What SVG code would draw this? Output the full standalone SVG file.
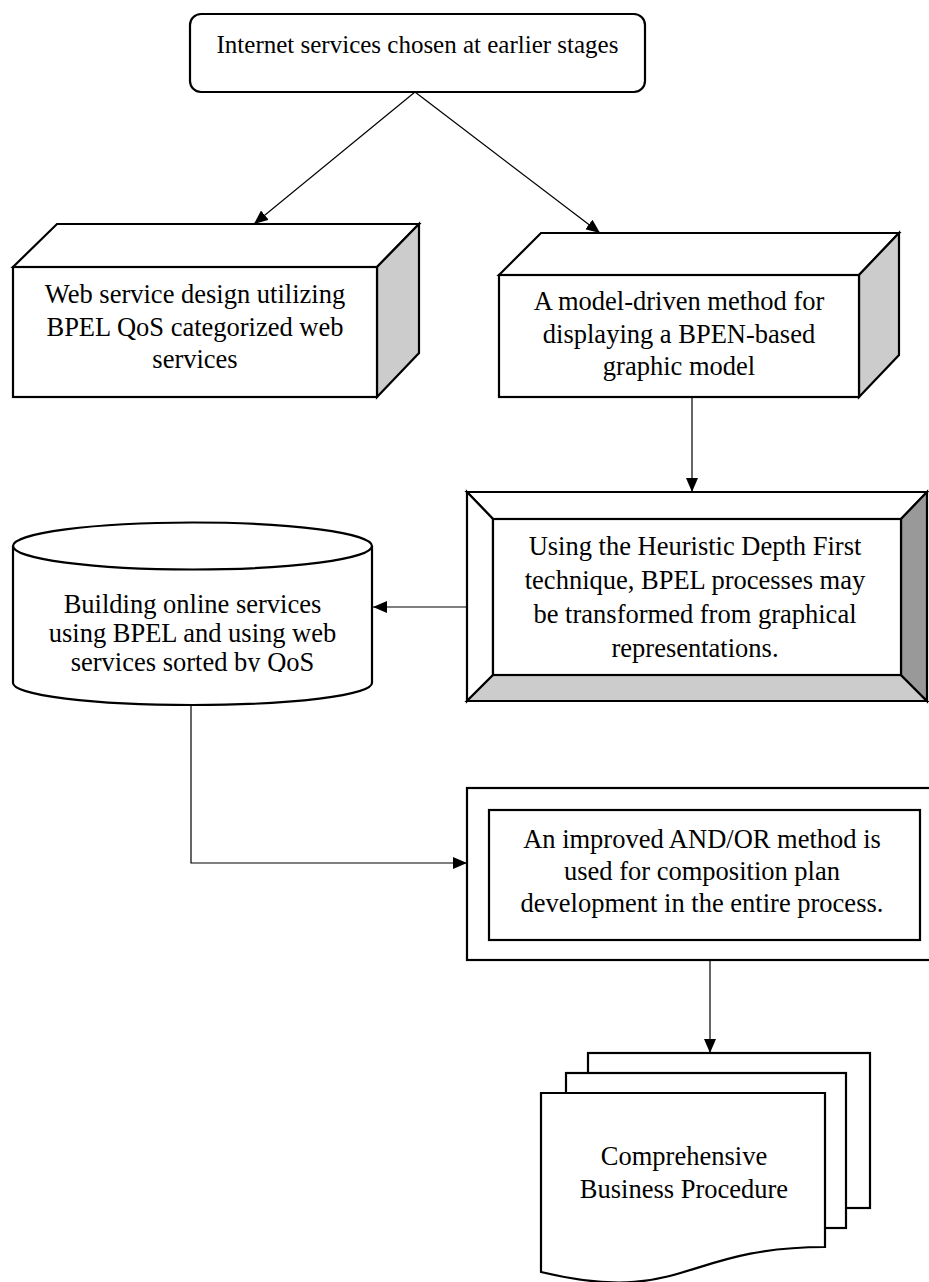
<svg xmlns="http://www.w3.org/2000/svg" width="929" height="1282" viewBox="0 0 929 1282">
<style>
.s{stroke:#000;stroke-width:2.2;stroke-linejoin:miter}
.w{fill:#fff}
.g1{fill:#ccc}
.g2{fill:#999}
.t{font-family:"Liberation Serif","Times New Roman",serif;font-size:26.5px;fill:#000;text-anchor:middle}
.c{fill:none;stroke:#000;stroke-width:1.2}
</style>
<defs>
<marker id="ah" viewBox="0 0 14 12" refX="14" refY="6" markerWidth="14" markerHeight="12" markerUnits="userSpaceOnUse" orient="auto">
<path d="M0,0 L14,6 L0,12 Z" fill="#000"/>
</marker>
<clipPath id="cylclip"><rect x="0" y="520" width="400" height="152"/></clipPath>
</defs>
<rect width="929" height="1282" fill="#fff"/>

<g id="connectors">
<line class="c" x1="415" y1="92" x2="254" y2="224" marker-end="url(#ah)"/>
<line class="c" x1="415" y1="92" x2="600" y2="233" marker-end="url(#ah)"/>
<line class="c" x1="692" y1="397" x2="692" y2="492" marker-end="url(#ah)"/>
<line class="c" x1="467" y1="607" x2="373" y2="607" marker-end="url(#ah)"/>
<polyline class="c" points="191,705 191,863 467,863" marker-end="url(#ah)"/>
<line class="c" x1="710" y1="961" x2="710" y2="1053" marker-end="url(#ah)"/>
</g>

<g id="start">
<rect class="s w" x="190" y="14" width="455" height="78" rx="11"/>
<text class="t" x="417.5" y="53" style="font-size:25px">Internet services chosen at earlier stages</text>
</g>

<g id="design">
<polygon class="s w" points="13,267 57,224 419,224 377,267"/>
<polygon class="s g1" points="377,267 419,224 419,353 377,397"/>
<rect class="s w" x="13" y="267" width="364" height="130"/>
<text class="t" x="195" y="303">Web service design utilizing</text>
<text class="t" x="195" y="336">BPEL QoS categorized web</text>
<text class="t" x="195" y="368">services</text>
</g>

<g id="model">
<polygon class="s w" points="499,275 541,233 899,233 859,275"/>
<polygon class="s g1" points="859,275 899,233 899,355 859,397"/>
<rect class="s w" x="499" y="275" width="360" height="122"/>
<text class="t" x="679" y="310">A model-driven method for</text>
<text class="t" x="679" y="343">displaying a BPEN-based</text>
<text class="t" x="679" y="375">graphic model</text>
</g>

<g id="heuristic">
<polygon class="s w" points="467,492 927,492 901,519 493,519"/>
<polygon class="s w" points="467,492 493,519 493,675 467,701"/>
<polygon class="s g1" points="467,701 493,675 901,675 927,701"/>
<polygon class="s g2" points="927,492 927,701 901,675 901,519"/>
<rect class="s w" x="493" y="519" width="408" height="156"/>
<text class="t" x="695" y="555">Using the Heuristic Depth First</text>
<text class="t" x="695" y="589">technique, BPEL processes may</text>
<text class="t" x="695" y="623">be transformed from graphical</text>
<text class="t" x="695" y="657">representations.</text>
</g>

<g id="building">
<path class="s w" d="M13,546 L13,683 A179.5,22 0 0 0 372,683 L372,546 A179.5,23.5 0 0 0 13,546 Z"/>
<path class="s" fill="none" d="M13,546 A179.5,23.5 0 0 0 372,546"/>
<g clip-path="url(#cylclip)">
<text class="t" x="192.5" y="613">Building online services</text>
<text class="t" x="192.5" y="642">using BPEL and using web</text>
<text class="t" x="192.5" y="671">services sorted by QoS</text>
</g>
</g>

<g id="andor">
<rect class="s w" x="467" y="788" width="475" height="172"/>
<rect class="s w" x="489" y="810" width="431" height="130"/>
<text class="t" x="702" y="848">An improved AND/OR method is</text>
<text class="t" x="702" y="880">used for composition plan</text>
<text class="t" x="702" y="912">development in the entire process.</text>
</g>

<g id="procedure">
<rect class="s w" x="588" y="1053" width="282" height="155"/>
<rect class="s w" x="566" y="1073" width="280" height="155"/>
<path class="s w" d="M541,1093 L825,1093 L825,1247 C683,1247 683,1306 541,1272 Z"/>
<text class="t" x="684" y="1165">Comprehensive</text>
<text class="t" x="684" y="1198">Business Procedure</text>
</g>
</svg>
